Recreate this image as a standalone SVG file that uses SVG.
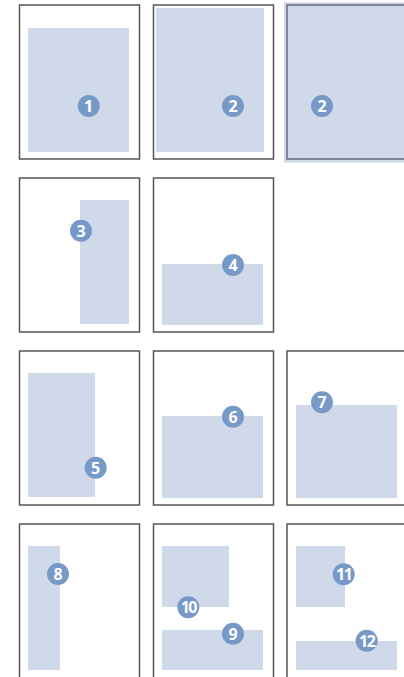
<svg xmlns="http://www.w3.org/2000/svg" width="404" height="677" viewBox="0 0 404 677">
<style>
.frame{fill:#fff;stroke:#555;stroke-width:1.5}
.area{fill:#d0d9ea}
.badge circle{fill:#7799c8}
.badge text{fill:#fff;font-family:"Open Sans","DejaVu Sans",sans-serif;font-weight:bold;font-size:16px;text-anchor:middle;dominant-baseline:central}
</style>
<rect width="404" height="677" fill="#fff"/>
<g id="frame1">
<rect class="frame" x="19.5" y="5" width="120" height="154"/>
<rect class="area" x="28" y="28" width="101" height="124"/>
<g class="badge"><circle cx="88.7" cy="106" r="11"/><text x="88.7" y="106">1</text></g>
</g>
<g id="frame2">
<rect class="frame" x="153.5" y="5" width="120" height="154"/>
<rect class="area" x="156" y="8" width="108" height="144"/>
<g class="badge"><circle cx="233" cy="106" r="11"/><text x="233" y="106">2</text></g>
</g>
<g id="frame3">
<rect class="area" x="284" y="2.3" width="120" height="160.4"/>
<rect x="287" y="5" width="130" height="154" fill="#d0d9ea" stroke="#666a78" stroke-width="1.5"/>
<g class="badge"><circle cx="322" cy="106" r="11"/><text x="322" y="106">2</text></g>
</g>
<g id="frame4">
<rect class="frame" x="19.5" y="178" width="120" height="154"/>
<rect class="area" x="80" y="200" width="49" height="124"/>
<g class="badge"><circle cx="81" cy="230.7" r="11"/><text x="81" y="230.7">3</text></g>
</g>
<g id="frame5">
<rect class="frame" x="153.5" y="178" width="120" height="154"/>
<rect class="area" x="162" y="264" width="101" height="61"/>
<g class="badge"><circle cx="233" cy="265" r="11"/><text x="233" y="265">4</text></g>
</g>
<g id="frame6">
<rect class="frame" x="19.5" y="351" width="120" height="154"/>
<rect class="area" x="28" y="373" width="67" height="124"/>
<g class="badge"><circle cx="95.7" cy="467.7" r="11"/><text x="95.7" y="467.7">5</text></g>
</g>
<g id="frame7">
<rect class="frame" x="153.5" y="351" width="120" height="154"/>
<rect class="area" x="162" y="416" width="101" height="82"/>
<g class="badge"><circle cx="233" cy="416.7" r="11"/><text x="233" y="416.7">6</text></g>
</g>
<g id="frame8">
<rect class="frame" x="287" y="351" width="130" height="154"/>
<rect class="area" x="296" y="405" width="101" height="93"/>
<g class="badge"><circle cx="322" cy="402.3" r="11"/><text x="322" y="402.3">7</text></g>
</g>
<g id="frame9">
<rect class="frame" x="19.5" y="524" width="120" height="170"/>
<rect class="area" x="28" y="546" width="32" height="124"/>
<g class="badge"><circle cx="58" cy="574" r="11"/><text x="58" y="574">8</text></g>
</g>
<g id="frame10">
<rect class="frame" x="153.5" y="524" width="120" height="170"/>
<rect class="area" x="162" y="546" width="67" height="61"/>
<rect class="area" x="162" y="630" width="101" height="40"/>
<g class="badge"><circle cx="233" cy="633.7" r="11"/><text x="233" y="633.7">9</text></g>
<g class="badge"><circle cx="188.3" cy="607.3" r="11"/><text x="188.3" y="607.3" letter-spacing="-1.5">10</text></g>
</g>
<g id="frame11">
<rect class="frame" x="287" y="524" width="130" height="170"/>
<rect class="area" x="296" y="546" width="49" height="61"/>
<rect class="area" x="296" y="641" width="101" height="29"/>
<g class="badge"><circle cx="343.7" cy="574.3" r="11"/><text x="343.7" y="574.3" letter-spacing="-1.5">11</text></g>
<g class="badge"><circle cx="366.7" cy="640.7" r="11"/><text x="366.7" y="640.7" letter-spacing="-1.5">12</text></g>
</g>
<g id="connectors"/>
</svg>
